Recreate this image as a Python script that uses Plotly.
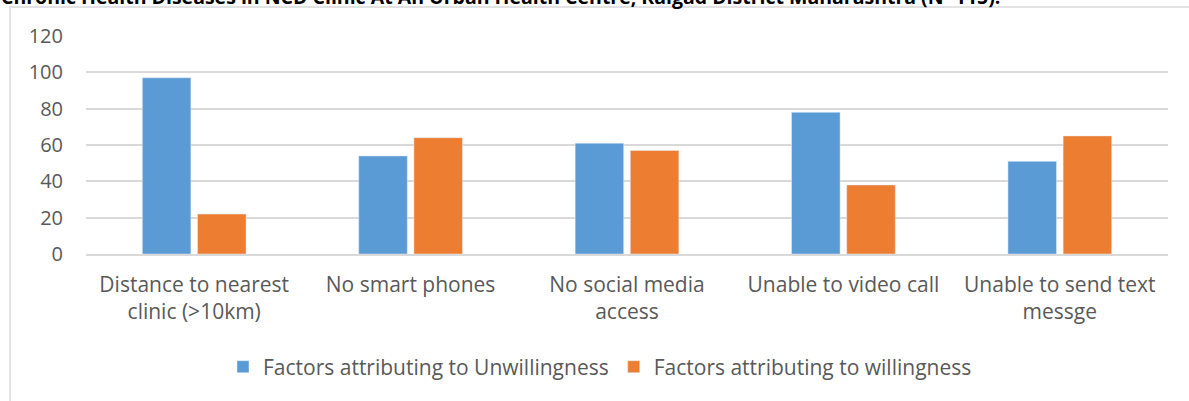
import plotly.graph_objects as go

categories = ["Distance to nearest<br>clinic (>10km)", "No smart phones", "No social media<br>access",
              "Unable to video call", "Unable to send text<br>messge"]
unwilling = [97, 54, 61, 78, 51]
willing = [22, 64, 57, 38, 65]
series_names = ["Factors attributing to Unwillingness", "Factors attributing to willingness"]
title_text = "Chronic Health Diseases in NCD Clinic At An Urban Health Centre, Raigad District Maharashtra (N=115)."

W, H = 1189, 401
L, R, T, B = 86, 21, 36, 147
pw, ph = W - L - R, H - T - B

def px(x):
    return (x - L) / pw

def py(y):
    return (H - B - y) / ph

font_fam = "'Open Sans', sans-serif"

fig = go.Figure()
fig.add_trace(go.Bar(x=categories, y=unwilling, name=series_names[0], marker_color="#5B9BD5"))
fig.add_trace(go.Bar(x=categories, y=willing, name=series_names[1], marker_color="#ED7D31"))

fig.update_layout(
    width=W, height=H,
    margin=dict(l=L, r=R, t=T, b=B),
    paper_bgcolor="white", plot_bgcolor="white",
    barmode="group", bargap=0.49, bargroupgap=0.12,
    font=dict(family=font_fam, size=21, color="#595959"),
    legend=dict(orientation="h", x=px(600), xanchor="center", y=py(367), yanchor="middle",
                font=dict(size=21, color="#595959"), itemwidth=30, tracegroupgap=0),
    showlegend=True,
)
fig.update_yaxes(range=[0, 120], dtick=20, showgrid=True, gridcolor="#D9D9D9", gridwidth=1.5,
                 zeroline=False, showline=False, ticks="", ticklabelstandoff=22,
                 tickfont=dict(size=20, color="#595959"))
fig.update_xaxes(showline=True, linecolor="#D9D9D9", linewidth=1.5, ticks="",
                 tickfont=dict(size=21, color="#595959"), tickangle=0, ticklabelstandoff=11)

fig.add_shape(type="rect", xref="paper", yref="paper", x0=px(10), x1=px(1200), y0=py(7), y1=py(420),
              line=dict(color="#D9D9D9", width=1.5), fillcolor="rgba(0,0,0,0)", layer="below")
fig.add_annotation(text="<b>" + title_text + "</b>", xref="paper", yref="paper", x=px(-1), xanchor="left",
                   y=py(12), yanchor="bottom", showarrow=False,
                   font=dict(family="'Open Sans', sans-serif", size=19.5, color="black"))

fig.write_html("out.html")
